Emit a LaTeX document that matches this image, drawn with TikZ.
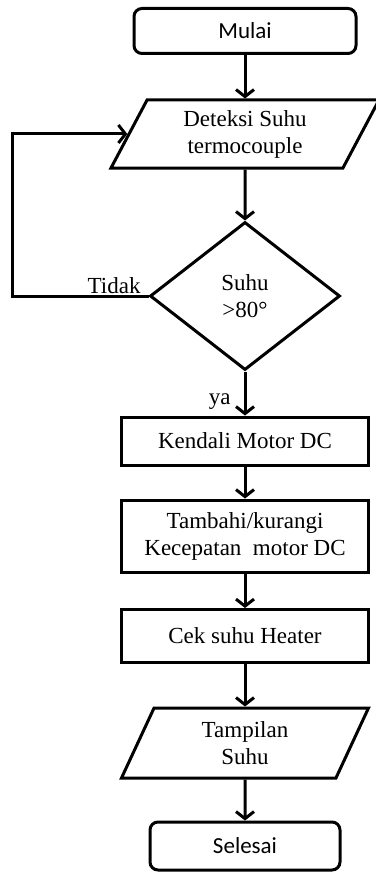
\documentclass[tikz,border=0pt]{standalone}
\usepackage{fontspec}
\setmainfont{Liberation Serif}
\newfontfamily\calfont{Carlito}
\usetikzlibrary{arrows.meta, positioning, shapes.geometric}

\begin{document}
\begin{tikzpicture}[x=1pt, y=-1pt,
  every node/.style={font=\fontsize{23}{27}\selectfont, align=center, inner sep=0pt},
  T/.style={draw, rounded corners=8pt, font=\calfont\fontsize{23}{27}\selectfont},
  IO/.style={draw, trapezium, trapezium left angle=53, trapezium right angle=127,
    trapezium stretches body, minimum height=68pt},
  P/.style={draw, rectangle, minimum width=247pt},
  D/.style={draw, diamond, minimum width=190pt, minimum height=148pt},
  line width=3pt, >={Straight Barb[length=7pt,width=18pt]}]
  \useasboundingbox (0,0) rectangle (375,872);
  % start + input
  \node[T, minimum width=222pt, minimum height=45pt] (mulai) at (245,31) {Mulai};
  \node[IO, minimum width=268pt] (deteksi) at (245,134) {Deteksi Suhu\\termocouple};
  % decision
  \node[D] (suhu) at (245,296) {Suhu\\>80°};
  \node[anchor=base east] (tidak) at (142,293) {Tidak};
  \node[anchor=base east] (ya) at (232,404) {ya};
  % process boxes
  \node[P, minimum height=48pt] (kendali) at (245,441) {Kendali Motor DC};
  \node[P, minimum height=72pt] (tambah) at (245,536) {Tambahi/kurangi\\Kecepatan\ \ motor DC};
  \node[P, minimum height=53pt] (cek) at (245,636) {Cek suhu Heater};
  % output + end
  \node[IO, minimum width=247pt, minimum height=70pt] (tampil) at (245,743) {Tampilan\\Suhu};
  \node[T, minimum width=190pt, minimum height=48pt] (selesai) at (245,846) {Selesai};
  % arrows
  \draw[->] (mulai) -- (deteksi);
  \draw[->] (deteksi) -- (suhu);
  \draw[->] (suhu) -- (kendali);
  \draw[->] (kendali) -- (tambah);
  \draw[->] (tambah) -- (cek);
  \draw[->] (cek) -- (tampil);
  \draw[->] (tampil) -- (selesai);
  % loop back
  \coordinate (kiri) at (12,296);
  \draw[->] (suhu.west) -- (kiri) |- (deteksi.west);
\end{tikzpicture}
\end{document}
